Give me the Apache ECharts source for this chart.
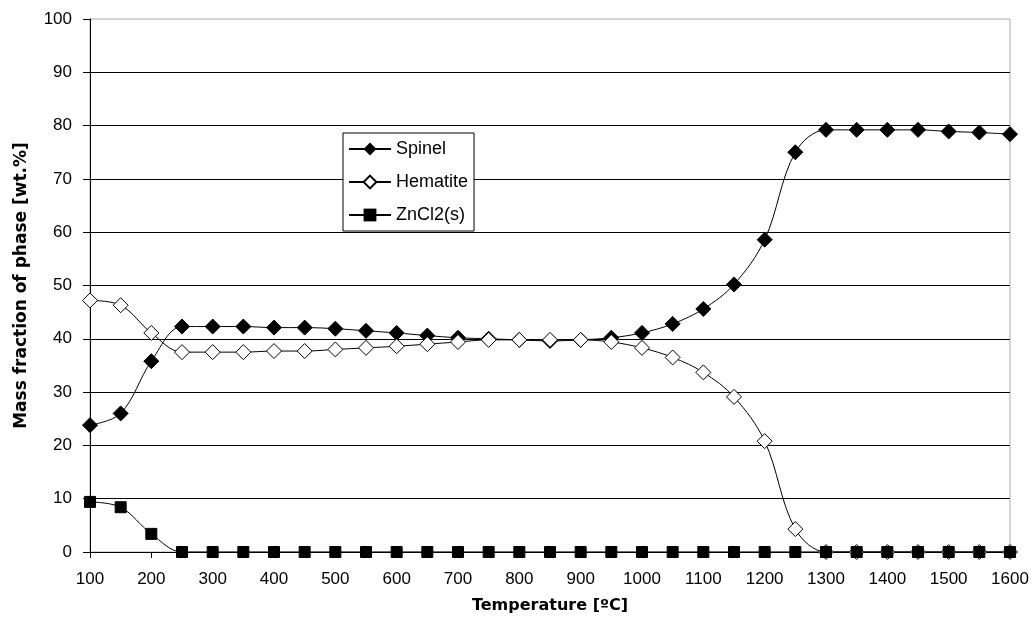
<!DOCTYPE html>
<html><head><meta charset="utf-8">
<script src="https://cdn.jsdelivr.net/npm/echarts@6/dist/echarts.min.js"></script>
<style>html,body{margin:0;padding:0;background:#fff}#c{width:1032px;height:628px}</style>
</head><body><div id="c"></div>
<script>
const temps = [100,150,200,250,300,350,400,450,500,550,600,650,700,750,800,850,900,950,1000,1050,1100,1150,1200,1250,1300,1350,1400,1450,1500,1550,1600];
const spinel = [23.8,26.0,35.8,42.3,42.3,42.3,42.1,42.1,41.9,41.5,41.1,40.6,40.2,40.0,39.8,39.6,39.8,40.2,41.1,42.8,45.6,50.2,58.6,75.0,79.2,79.2,79.2,79.2,78.9,78.7,78.4];
const hematite = [47.2,46.3,41.1,37.5,37.5,37.5,37.7,37.7,38.0,38.3,38.6,39.0,39.4,39.8,39.8,39.8,39.8,39.4,38.3,36.5,33.7,29.1,20.8,4.3,0,0,0,0,0,0,0];
const zncl2 = [9.4,8.4,3.4,0,0,0,0,0,0,0,0,0,0,0,0,0,0,0,0,0,0,0,0,0,0,0,0,0,0,0,0];
const pair = a => temps.map((t,i)=>[t,a[i]]);
const font = 'Liberation Sans, Arial, sans-serif';
const titleFont = 'DejaVu Sans, Verdana, sans-serif';
const chart = echarts.init(document.getElementById('c'));
const base = {type:'line', smooth:0.35, lineStyle:{color:'#000',width:1}, z:3};
chart.setOption({
  animation:false,
  textStyle:{fontFamily:font},
  grid:{left:90,right:22,top:19,bottom:76,show:true,borderColor:'#aaa',borderWidth:1,backgroundColor:'#fff'},
  legend:{left:343,top:133,orient:'vertical',backgroundColor:'#fff',borderColor:'#000',borderWidth:1,
    padding:[7,6,7,5],itemGap:15,itemWidth:42,itemHeight:16,
    textStyle:{fontFamily:font,fontSize:18,color:'#000'},
    data:['Spinel','Hematite','ZnCl2(s)']},
  xAxis:{type:'value',min:100,max:1600,interval:100,
    name:'Temperature [ºC]',nameLocation:'middle',nameGap:46,
    nameTextStyle:{fontFamily:titleFont,fontSize:16,fontWeight:'bold',color:'#000'},
    axisLine:{lineStyle:{color:'#000',width:1}},
    axisTick:{show:true,length:6,lineStyle:{color:'#000'}},
    axisLabel:{margin:19,fontFamily:font,fontSize:17,color:'#000',formatter:v=>String(v)},
    splitLine:{show:false}},
  yAxis:{type:'value',min:0,max:100,interval:10,
    name:'Mass fraction of phase [wt.%]',nameLocation:'middle',nameGap:60,
    nameTextStyle:{fontFamily:titleFont,fontSize:17,fontWeight:'bold',color:'#000'},
    axisLine:{show:true,lineStyle:{color:'#000',width:1}},
    axisTick:{show:true,length:7,lineStyle:{color:'#000'}},
    axisLabel:{margin:18,fontFamily:font,fontSize:17,color:'#000',formatter:v=>String(v)},
    splitLine:{show:true,showMaxLine:false,lineStyle:{color:'#000',width:1}}},
  series:[
    Object.assign({},base,{name:'Spinel',data:pair(spinel),symbol:'diamond',symbolSize:15,itemStyle:{color:'#000',borderColor:'#000'}}),
    Object.assign({},base,{name:'Hematite',data:pair(hematite),symbol:'diamond',symbolSize:15,itemStyle:{color:'#fff',borderColor:'#000',borderWidth:1}}),
    Object.assign({},base,{name:'ZnCl2(s)',data:pair(zncl2),symbol:'rect',symbolSize:11,itemStyle:{color:'#000',borderColor:'#000'}})
  ]
});
</script></body></html>
